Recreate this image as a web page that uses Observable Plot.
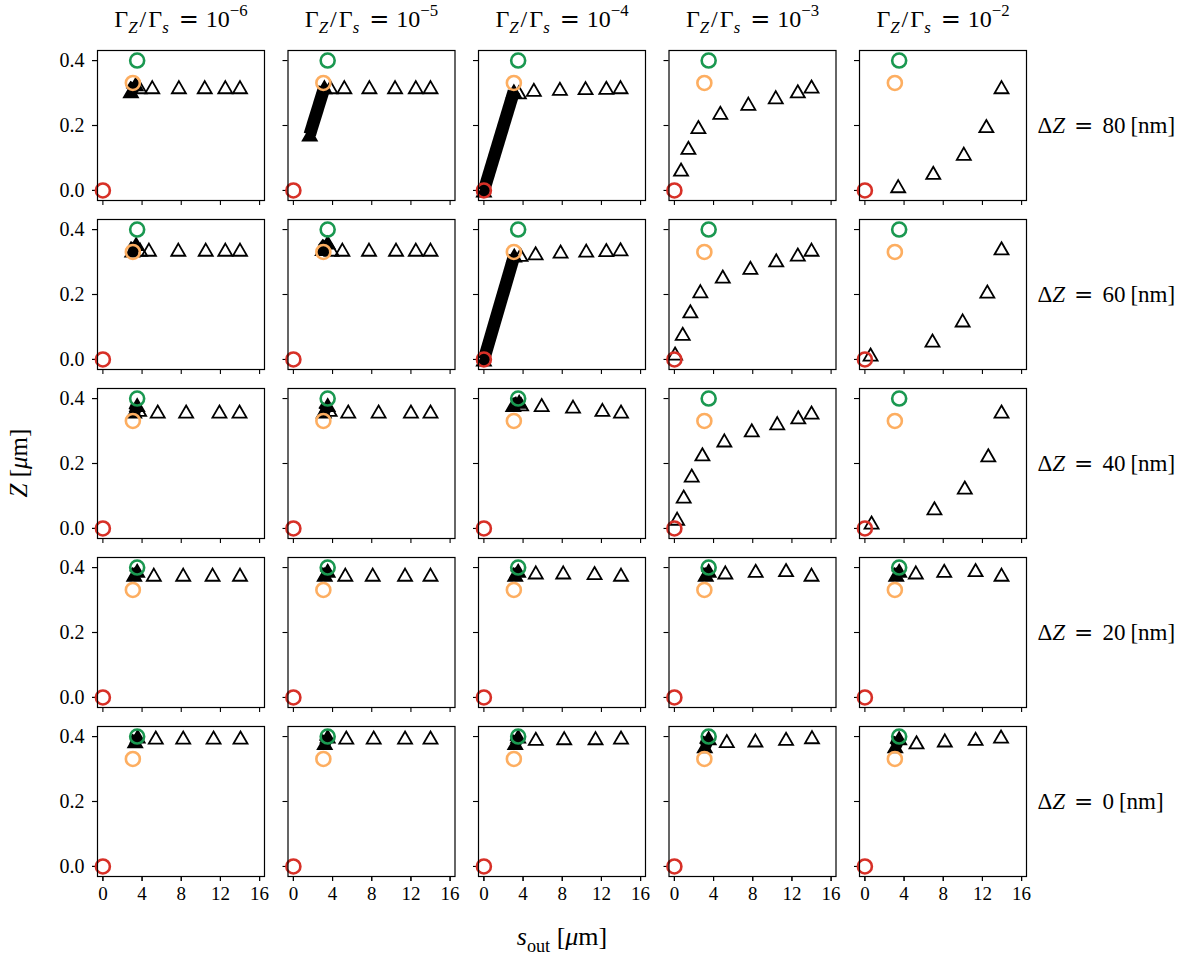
<!DOCTYPE html>
<html><head><meta charset="utf-8">
<script src="https://cdn.jsdelivr.net/npm/d3@7"></script>
<script src="https://cdn.jsdelivr.net/npm/@observablehq/plot@0.6"></script>
<style>body{margin:0;background:#fff;}</style>
</head><body><div id="chart"></div>
<script>
// ---- facets ----
const gammaExponents = [-6, -5, -4, -3, -2];   // columns: Γ_Z/Γ_s = 10^e
const deltaZnm = [80, 60, 40, 20, 0];          // rows: ΔZ [nm]
const xTicks = [0, 4, 8, 12, 16];
const yTicks = [0, 0.2, 0.4];

// ---- reference points (same in every panel) ----
const refNames = ["initial", "intermediate", "target"];
const refS = [0, 3.06, 3.5];
const refZ = [0, 0.331, 0.40];
const refColors = ["#d73027", "#fdae61", "#1a9850"];

// ---- sparse triangle markers, one list per Γ column ----
const triS_80 = [[3.75, 5.04, 7.76, 10.4, 12.5, 14.0], [3.78, 5.2, 7.76, 10.38, 12.5, 14.0], [3.57, 5.1, 7.76, 10.38, 12.5, 13.95], [0.68, 1.43, 2.45, 4.69, 7.55, 10.35, 12.6, 14.0], [3.4, 6.98, 10.1, 12.4, 13.95]];
const triZ_80 = [[0.318, 0.318, 0.318, 0.318, 0.318, 0.318], [0.318, 0.318, 0.318, 0.318, 0.318, 0.318], [0.302, 0.310, 0.313, 0.315, 0.316, 0.318], [0.064, 0.131, 0.195, 0.239, 0.267, 0.287, 0.305, 0.320], [0.013, 0.054, 0.113, 0.198, 0.318]];
const triS_60 = [[3.8, 4.7, 7.7, 10.5, 12.5, 14.0], [3.9, 5.0, 7.72, 10.48, 12.5, 14.0], [3.74, 5.28, 7.83, 10.45, 12.5, 13.95], [0.07, 0.85, 1.63, 2.65, 4.94, 7.76, 10.4, 12.6, 14.0], [0.58, 6.9, 9.98, 12.5, 13.95]];
const triZ_60 = [[0.338, 0.338, 0.338, 0.338, 0.338, 0.338], [0.338, 0.338, 0.338, 0.338, 0.338, 0.338], [0.322, 0.327, 0.332, 0.335, 0.337, 0.339], [0.018, 0.079, 0.148, 0.210, 0.255, 0.282, 0.305, 0.323, 0.338], [0.015, 0.058, 0.120, 0.209, 0.342]];
const triS_40 = [[3.7, 5.6, 8.5, 11.9, 13.95], [3.7, 5.6, 8.7, 12.0, 14.0], [3.8, 5.9, 9.1, 12.1, 14.0], [0.28, 0.95, 1.77, 2.86, 5.1, 7.9, 10.5, 12.65, 14.0], [0.68, 7.1, 10.2, 12.6, 13.95]];
const triZ_40 = [[0.365, 0.36, 0.36, 0.36, 0.36], [0.365, 0.36, 0.36, 0.36, 0.36], [0.382, 0.38, 0.375, 0.365, 0.36], [0.030, 0.098, 0.163, 0.228, 0.271, 0.302, 0.324, 0.342, 0.357], [0.018, 0.062, 0.126, 0.225, 0.360]];
const triS_20 = [[5.2, 8.2, 11.2, 14.0], [5.3, 8.1, 11.4, 14.0], [5.3, 8.1, 11.3, 14.0], [5.2, 8.3, 11.4, 14.0], [5.2, 8.1, 11.3, 13.95]];
const triZ_20 = [[0.378, 0.378, 0.378, 0.378], [0.378, 0.378, 0.378, 0.378], [0.385, 0.385, 0.383, 0.378], [0.385, 0.390, 0.392, 0.378], [0.385, 0.390, 0.392, 0.378]];
const triS_0 = [[5.4, 8.2, 11.3, 14.05], [5.4, 8.2, 11.4, 14.0], [5.3, 8.2, 11.4, 14.0], [5.35, 8.27, 11.4, 14.05], [5.27, 8.16, 11.3, 13.9]];
const triZ_0 = [[0.397, 0.397, 0.397, 0.397], [0.397, 0.397, 0.397, 0.397], [0.393, 0.395, 0.395, 0.397], [0.386, 0.388, 0.393, 0.398], [0.382, 0.388, 0.393, 0.400]];

// ---- densely sampled early stretch (overlapping triangles), start -> end per Γ column ----
const denseS0_80 = [2.86, 1.67, 0.0, null, null], denseZ0_80 = [0.305, 0.172, 0.0, null, null];
const denseS1_80 = [3.35, 3.17, 3.06, null, null], denseZ1_80 = [0.327, 0.318, 0.305, null, null];
const denseS0_60 = [3.0, 3.0, 0.0, null, null], denseZ0_60 = [0.335, 0.34, 0.0, null, null];
const denseS1_60 = [3.4, 3.5, 3.1, null, null], denseZ1_60 = [0.355, 0.36, 0.32, null, null];
const denseS0_40 = [3.2, 3.1, 3.0, null, null], denseZ0_40 = [0.36, 0.36, 0.38, null, null];
const denseS1_40 = [3.5, 3.5, 3.6, null, null], denseZ1_40 = [0.38, 0.38, 0.39, null, null];
const denseS0_20 = [3.2, 3.2, 3.2, 3.2, 3.2], denseZ0_20 = [0.378, 0.378, 0.378, 0.378, 0.378];
const denseS1_20 = [3.5, 3.5, 3.5, 3.5, 3.5], denseZ1_20 = [0.39, 0.39, 0.39, 0.39, 0.39];
const denseS0_0 = [3.3, 3.2, 3.2, 3.1, 3.1], denseZ0_0 = [0.385, 0.38, 0.38, 0.37, 0.37];
const denseS1_0 = [3.55, 3.5, 3.5, 3.5, 3.5], denseZ1_0 = [0.40, 0.40, 0.40, 0.395, 0.395];

const rowSets = [
  [80, triS_80, triZ_80, denseS0_80, denseZ0_80, denseS1_80, denseZ1_80],
  [60, triS_60, triZ_60, denseS0_60, denseZ0_60, denseS1_60, denseZ1_60],
  [40, triS_40, triZ_40, denseS0_40, denseZ0_40, denseS1_40, denseZ1_40],
  [20, triS_20, triZ_20, denseS0_20, denseZ0_20, denseS1_20, denseZ1_20],
  [0, triS_0, triZ_0, denseS0_0, denseZ0_0, denseS1_0, denseZ1_0]
];

const triangles = [], dense = [], denseEnds = [], refs = [];
for (const [dz, S, Z, s0, z0, s1, z1] of rowSets) {
  gammaExponents.forEach((g, ci) => {
    S[ci].forEach((s, k) => triangles.push({dz, g, s, z: Z[ci][k]}));
    if (s0[ci] != null) {
      const id = dz + "_" + g;
      dense.push({dz, g, id, s: s0[ci], z: z0[ci]}, {dz, g, id, s: s1[ci], z: z1[ci]});
      denseEnds.push({dz, g, s: s0[ci], z: z0[ci]}, {dz, g, s: s1[ci], z: z1[ci]});
    }
    refNames.forEach((n, k) => refs.push({dz, g, name: n, s: refS[k], z: refZ[k]}));
  });
}

const FONT = "'Liberation Serif', 'DejaVu Serif', serif";
const facetOpts = {fx: "g", fy: "dz"};

const chart = Plot.plot({
  width: 1188, height: 957,
  marginLeft: 97, marginRight: 162, marginTop: 50, marginBottom: 81,
  style: {fontFamily: FONT, fontSize: "19px", color: "black", background: "white"},
  x: {domain: [-0.55, 16.5]},
  y: {domain: [-0.031, 0.431]},
  fx: {domain: gammaExponents, paddingInner: 0.1234, paddingOuter: 0, round: false},
  fy: {domain: deltaZnm, paddingInner: 0.1124, paddingOuter: 0, round: false},
  color: {domain: refNames, range: refColors},
  marks: [
    Plot.axisX({ticks: xTicks, tickSize: 5, fill: "none", strokeWidth: 1.1, facetAnchor: null, label: null}),
    Plot.axisX({ticks: xTicks, tickSize: 5, tickPadding: 5, strokeWidth: 1.1, label: null, fontSize: 19, tickFormat: d3.format("d")}),
    Plot.axisY({ticks: yTicks, tickSize: 5, fill: "none", strokeWidth: 1.1, facetAnchor: null, label: null}),
    Plot.axisY({ticks: yTicks, tickSize: 5, tickPadding: 8, strokeWidth: 1.1, label: null, fontSize: 20, tickFormat: d3.format(".1f")}),
    Plot.axisFx({anchor: "top", label: null, tickSize: 0, tickPadding: 24, fontSize: 24, tickFormat: d => "Γ/Γ = 10^" + d}),
    Plot.axisFy({anchor: "right", label: null, tickSize: 0, tickPadding: 11, fontSize: 23, textAnchor: "start", tickFormat: d => "ΔZ = " + d + " [nm]"}),
    Plot.line(dense, {...facetOpts, x: "s", y: "z", z: "id", stroke: "black", strokeWidth: 12.5, strokeLinecap: "butt"}),
    Plot.dot(denseEnds, {...facetOpts, x: "s", y: "z", symbol: "triangle", r: 5.2, dy: 2, fill: "black", stroke: "black", strokeWidth: 1.8}),
    Plot.dot(triangles, {...facetOpts, x: "s", y: "z", symbol: "triangle", r: 5.2, dy: 2, fill: "none", stroke: "black", strokeWidth: 1.8, strokeLinejoin: "miter"}),
    Plot.dot(refs, {...facetOpts, x: "s", y: "z", r: 7, stroke: "name", strokeWidth: 2.6, fill: "none"}),
    Plot.frame({stroke: "black", strokeWidth: 1.2})
  ]
});
document.getElementById("chart").append(chart);

// ---- typeset math-style labels as real text with tspans ----
function rich(el, segs, size) {
  const t = d3.select(el);
  t.text(null).attr("font-size", size).style("font-size", size + "px").attr("font-family", FONT);
  let shift = 0;
  for (const s of segs) {
    const target = s.sub ? size * 0.28 : s.sup ? -size * 0.42 : 0;
    const ts = t.append("tspan").text(s.t);
    if (target !== shift) { ts.attr("dy", target - shift); shift = target; }
    if (s.dx) ts.attr("dx", s.dx);
    if (s.sub || s.sup) ts.style("font-size", (size * 0.7) + "px");
    if (s.i) ts.attr("font-style", "italic");
    if (s.f) ts.attr("font-family", s.f);
  }
}
const MATHF = "'DejaVu Serif', serif";
const svg = d3.select(chart);
svg.selectAll('g[aria-label="fx-axis tick label"] text').each(function () {
  const e = this.textContent.split("^")[1].replace("-", "−");
  rich(this, [{t: "Γ"}, {t: "Z", i: true, sub: true}, {t: "/", dx: 2}, {t: "Γ", dx: 2}, {t: "s", i: true, sub: true},
              {t: "=", dx: 10, f: MATHF}, {t: "10", dx: 7}, {t: e, sup: true}], 24);
});
svg.selectAll('g[aria-label="fy-axis tick label"] text').each(function () {
  const num = this.textContent.match(/-?\d+/)[0];
  rich(this, [{t: "Δ"}, {t: "Z", i: true}, {t: "=", dx: 9, f: MATHF}, {t: num, dx: 9}, {t: "[nm]", dx: 5}], 23);
});
const yl = svg.append("text").attr("transform", "translate(27,463) rotate(-90)").attr("text-anchor", "middle").attr("fill", "black");
rich(yl.node(), [{t: "Z", i: true}, {t: " ["}, {t: "μ", i: true}, {t: "m]"}], 25);
const xl = svg.append("text").attr("x", 562).attr("y", 945).attr("text-anchor", "middle").attr("fill", "black");
rich(xl.node(), [{t: "s", i: true}, {t: "out", sub: true}, {t: " ["}, {t: "μ", i: true}, {t: "m]"}], 26);
</script></body></html>
